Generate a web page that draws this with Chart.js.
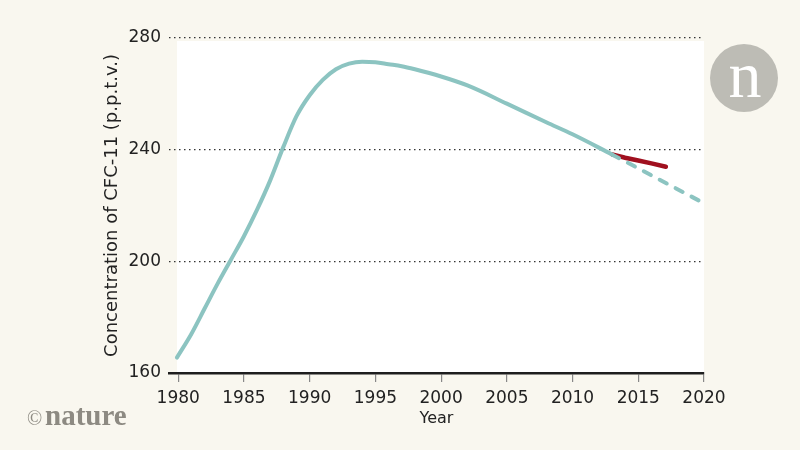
<!DOCTYPE html>
<html>
<head>
<meta charset="utf-8">
<script src="https://cdn.jsdelivr.net/npm/chart.js@4"></script>
<style>
  html, body { margin: 0; padding: 0; background: #f9f7ef; }
  #wrap { width: 800px; height: 450px; }
</style>
</head>
<body>
<div id="wrap"><canvas id="cfcChart"></canvas></div>
<script>
// CFC-11 concentration, p.p.t.v.
const obsYears = [1979.9, 1981, 1982, 1983, 1984, 1985, 1986, 1987, 1988, 1989, 1990, 1991, 1992, 1993, 1994, 1995, 1996, 1997, 1998, 2000, 2002, 2005, 2008, 2010, 2013];
const obsValues = [165.5, 174, 183, 192, 200.5, 209, 218.5, 229, 241, 252, 259.5, 265, 268.8, 270.8, 271.5, 271.3, 270.6, 269.9, 268.8, 266.2, 263, 256.5, 249.8, 245.5, 238.3];

const recentYears = [2013, 2014, 2015, 2016, 2017.1];
const recentValues = [238.3, 237.1, 236.1, 235.1, 233.9];

const expectedYears = [2013, 2020];
const expectedValues = [238.3, 220.8];

const tickYears = [1980, 1985, 1990, 1995, 2000, 2005, 2010, 2015, 2020];

const teal = "#8cc4c1";
const darkRed = "#a0101f";
const font = "'DejaVu Sans', sans-serif";

function toPoints(xs, ys) {
  return xs.map((x, i) => ({ x: x, y: ys[i] }));
}

// white plot area + nature branding
const backdrop = {
  id: "backdrop",
  beforeDraw(chart) {
    const { ctx, chartArea } = chart;
    ctx.save();
    ctx.fillStyle = "#ffffff";
    ctx.fillRect(chartArea.left + 8, chartArea.top + 3, chartArea.right - chartArea.left - 8, chartArea.bottom - chartArea.top - 3);
    ctx.restore();
  },
  afterDraw(chart) {
    const ctx = chart.ctx;
    ctx.save();
    // logo
    ctx.fillStyle = "#bdbcb5";
    ctx.beginPath();
    ctx.arc(744, 78, 34, 0, Math.PI * 2);
    ctx.fill();
    ctx.fillStyle = "#ffffff";
    ctx.font = "66px 'Liberation Serif', serif";
    ctx.textAlign = "center";
    ctx.textBaseline = "alphabetic";
    ctx.fillText("n", 745, 97);
    // ©nature
    ctx.fillStyle = "#8d8a82";
    ctx.textAlign = "left";
    ctx.font = "20px 'Liberation Serif', serif";
    ctx.fillText("©", 27, 425);
    ctx.font = "bold 29px 'Liberation Serif', serif";
    ctx.fillText("nature", 45, 425);
    ctx.restore();
  }
};

new Chart("cfcChart", {
  type: "line",
  data: {
    datasets: [
      {
        data: toPoints(expectedYears, expectedValues),
        borderColor: teal,
        borderWidth: 4,
        borderDash: [8, 10],
        borderCapStyle: "round",
        pointRadius: 0,
        clip: false
      },
      {
        data: toPoints(obsYears, obsValues),
        borderColor: teal,
        borderWidth: 4,
        borderCapStyle: "round",
        cubicInterpolationMode: "monotone",
        pointRadius: 0
      },
      {
        data: toPoints(recentYears, recentValues),
        borderColor: darkRed,
        borderWidth: 4.5,
        borderCapStyle: "round",
        pointRadius: 0
      }
    ]
  },
  options: {
    responsive: true,
    maintainAspectRatio: false,
    animation: false,
    layout: { padding: { left: 102, top: 38, right: 96, bottom: 0 } },
    plugins: {
      legend: { display: false },
      tooltip: { enabled: false }
    },
    scales: {
      x: {
        type: "linear",
        min: 1979.3,
        max: 2020,
        afterBuildTicks(scale) {
          scale.ticks = tickYears.map(v => ({ value: v }));
        },
        afterFit(scale) { scale.height = 77; },
        grid: {
          drawOnChartArea: false,
          drawTicks: true,
          tickLength: 9,
          color: "#888888",
          lineWidth: 1.2
        },
        border: { display: true, color: "#1e1e1e", width: 2.5 },
        ticks: {
          color: "#222222",
          padding: 6,
          maxRotation: 0,
          font: { family: font, size: 17 },
          callback: v => String(v)
        },
        title: {
          display: true,
          text: "Year",
          color: "#222222",
          padding: { top: 0, bottom: 22 },
          font: { family: font, size: 16 }
        }
      },
      y: {
        min: 160,
        max: 280,
        afterFit(scale) { scale.width = 67; },
        grid: {
          drawTicks: false,
          color: ctx => ctx.tick && ctx.tick.value === 160 ? "rgba(0,0,0,0)" : "#333333",
          lineWidth: 1.2
        },
        border: { display: false, dash: [1.5, 3.5] },
        ticks: {
          stepSize: 40,
          color: "#222222",
          padding: 8,
          font: { family: font, size: 17 }
        },
        title: {
          display: true,
          text: "Concentration of CFC-11 (p.p.t.v.)",
          color: "#222222",
          padding: 0,
          font: { family: font, size: 18 }
        }
      }
    }
  },
  plugins: [backdrop]
});
</script>
</body>
</html>
